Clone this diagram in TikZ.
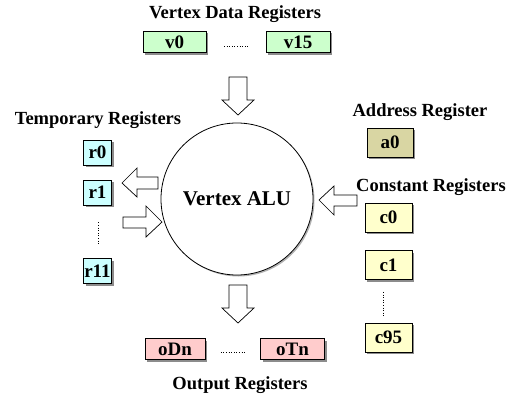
\documentclass[tikz,border=0pt]{standalone}
\usepackage{fontspec}
\setmainfont{Liberation Serif}
\usetikzlibrary{shadows,calc}
\definecolor{vgreen}{HTML}{CCFFCC}
\definecolor{rcyan}{HTML}{CCFFFF}
\definecolor{akhaki}{HTML}{D9D6A3}
\definecolor{cyell}{HTML}{FFFFCC}
\definecolor{opink}{HTML}{FFCCCC}
\tikzset{
  reg/.style={draw=black, line width=0.8pt, inner sep=0pt, font=\bfseries\fontsize{19}{19}\selectfont,
    drop shadow={shadow xshift=2pt, shadow yshift=-2pt, fill=black!45, opacity=1}},
  title/.style={font=\bfseries\fontsize{18.5}{18.5}\selectfont, inner sep=0pt},
  dotsv/.style={draw=black, line width=0.8pt, dash pattern=on 1pt off 1.6pt},
  fatarrow/.style={draw=black, line width=0.7pt, fill=white}
}
\begin{document}
\begin{tikzpicture}[x=1pt,y=-1pt]
\useasboundingbox (0,0) rectangle (513,396);
% titles
\node[title] (tv) at (235,14) {Vertex Data Registers};
\node[title] (tt) at (98,120) {Temporary Registers};
\node[title] (ta) at (420,112) {Address Register};
\node[title] (tc) at (431,187) {Constant Registers};
\node[title] (to) at (240,385) {Output Registers};
% ALU
\node[draw=black, line width=0.8pt, circle, minimum size=152pt, inner sep=0pt,
  font=\bfseries\fontsize{21}{21}\selectfont,
  drop shadow={shadow xshift=1.5pt, shadow yshift=-1.5pt, fill=black!30, opacity=1}, fill=white] (alu) at (237,199) {Vertex ALU};
% vertex data
\node[reg, fill=vgreen, minimum width=63pt, minimum height=21pt] (v0) at (174.5,42) {v0};
\node[reg, fill=vgreen, minimum width=64pt, minimum height=21pt] (v15) at (298,42) {v15};
\coordinate (mv) at ($(v0.east)!0.5!(v15.west)+(0,-4pt)$);
\draw[dotsv] ($(mv)+(-12pt,0)$) -- ($(mv)+(12pt,0)$);
% temporary
\node[reg, fill=rcyan, minimum width=28pt, minimum height=25pt] (r0) at (97.5,152.5) {r0};
\node[reg, fill=rcyan, minimum width=28pt, minimum height=25pt] (r1) at (97.5,192.5) {r1};
\node[reg, fill=rcyan, minimum width=28pt, minimum height=25pt] (r11) at (97.5,271) {r11};
\draw[dotsv] ([xshift=1pt,yshift=-17pt]r1.south) -- ([xshift=1pt,yshift=14pt]r11.north);
% address
\node[reg, fill=akhaki, minimum width=46pt, minimum height=29pt] (a0) at (390,142.5) {a0};
% constants
\node[reg, fill=cyell, minimum width=47pt, minimum height=29pt] (c0) at (388.5,217.5) {c0};
\node[reg, fill=cyell, minimum width=47pt, minimum height=29pt] (c1) at (388.5,265) {c1};
\node[reg, fill=cyell, minimum width=47pt, minimum height=29pt] (c95) at (388.5,337.5) {c95};
\draw[dotsv] ([xshift=-5pt,yshift=-12pt]c1.south) -- ([xshift=-5pt,yshift=6pt]c95.north);
% output
\node[reg, fill=opink, minimum width=60pt, minimum height=21pt] (oDn) at (175,349) {oDn};
\node[reg, fill=opink, minimum width=64pt, minimum height=21pt] (oTn) at (292.5,349) {oTn};
\coordinate (mo) at ($(oDn.east)!0.5!(oTn.west)+(0,-3pt)$);
\draw[dotsv] ($(mo)+(-12pt,0)$) -- ($(mo)+(12pt,0)$);
% arrows
% top down arrow
\draw[fatarrow] (229,77) -- (247,77) -- (247,100) -- (254,100) -- (238,115) -- (222,100) -- (229,100) -- cycle;
% bottom down arrow
\draw[fatarrow] (229,285) -- (247,285) -- (247,308) -- (254,308) -- (238,323) -- (222,308) -- (229,308) -- cycle;
% left arrow pointing left (to r1)
\draw[fatarrow] (158,177) -- (158,189) -- (137,189) -- (137,197) -- (122,183) -- (137,168) -- (137,177) -- cycle;
% arrow pointing right (into ALU)
\draw[fatarrow] (123,217) -- (146,217) -- (146,206) -- (162,222) -- (146,237) -- (146,228) -- (123,228) -- cycle;
% right arrow pointing left (from constants)
\draw[fatarrow] (357,195) -- (334,195) -- (334,186) -- (319,200) -- (334,215) -- (334,206) -- (357,206) -- cycle;
\end{tikzpicture}
\end{document}
